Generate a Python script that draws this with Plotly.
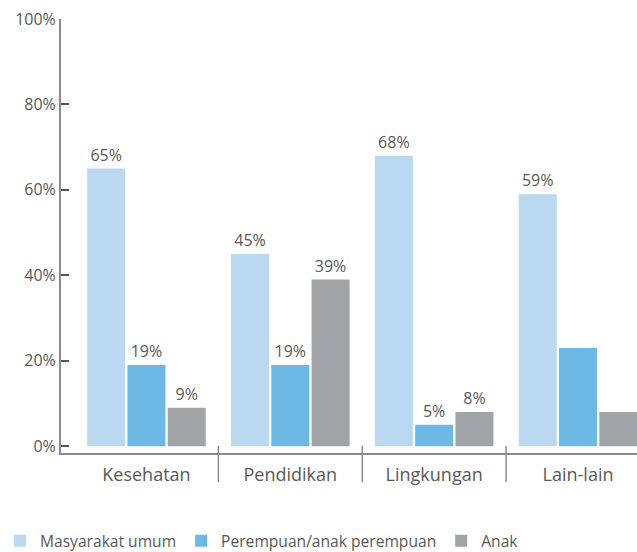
import plotly.graph_objects as go

categories = ["Kesehatan", "Pendidikan", "Lingkungan", "Lain-lain"]
series_names = ["Masyarakat umum", "Perempuan/anak perempuan", "Anak"]
masyarakat = [65, 45, 68, 59]
perempuan = [19, 19, 5, 23]
anak = [9, 39, 8, 8]
labels_masyarakat = ["65%", "45%", "68%", "59%"]
labels_perempuan = ["19%", "19%", "5%", ""]
labels_anak = ["9%", "39%", "8%", ""]
y_ticks = [0, 20, 40, 60, 80, 100]
y_tick_text = ["0%", "20%", "40%", "60%", "80%", "100%"]

colors = ["#BAD8F0", "#6DB8E5", "#A1A4A7"]
text_color = "#595959"
axis_color = "#8C8C8C"
font_family = "Open Sans"

x_pos = list(range(len(categories)))

fig = go.Figure()
for name, vals, labs, col in zip(series_names,
                                 [masyarakat, perempuan, anak],
                                 [labels_masyarakat, labels_perempuan, labels_anak],
                                 colors):
    fig.add_trace(go.Bar(
        x=x_pos, y=vals, name=name, marker=dict(color=col, line=dict(width=0)),
        text=labs, textposition="outside", cliponaxis=False,
        textfont=dict(family=font_family, size=16, color=text_color),
        hoverinfo="skip",
    ))

# category dividers between groups
for i in range(len(categories) - 1):
    fig.add_shape(type="line", xref="x", yref="paper",
                  x0=i + 0.5, x1=i + 0.5, y0=7 / 434, y1=-29 / 434,
                  line=dict(color=axis_color, width=1.5))

fig.update_layout(
    width=637, height=552,
    margin=dict(l=61, r=0, t=19, b=99, autoexpand=False),
    paper_bgcolor="white", plot_bgcolor="white",
    barmode="group", bargap=0.16, bargroupgap=0.057,
    font=dict(family=font_family, color=text_color),
    showlegend=True,
    legend=dict(orientation="h", x=-61 / 576, xanchor="left", y=-0.203, yanchor="middle",
                font=dict(family=font_family, size=15.6, color=text_color),
                bgcolor="rgba(0,0,0,0)"),
    xaxis=dict(range=[-0.594, 3.41], tickvals=x_pos, ticktext=categories,
               showgrid=False, zeroline=False, showline=True, linecolor=axis_color, linewidth=2,
               ticks="", ticklabelstandoff=4,
               tickfont=dict(family=font_family, size=18, color=text_color),
               fixedrange=True),
    yaxis=dict(range=[-1.6, 100], tickvals=y_ticks, ticktext=y_tick_text,
               showgrid=False, zeroline=False, showline=True, linecolor=axis_color, linewidth=2,
               ticks="inside", ticklen=8, tickcolor="#555555", tickwidth=1.5,
               tickfont=dict(family=font_family, size=16, color=text_color),
               fixedrange=True),
)

fig.write_html("out.html")
